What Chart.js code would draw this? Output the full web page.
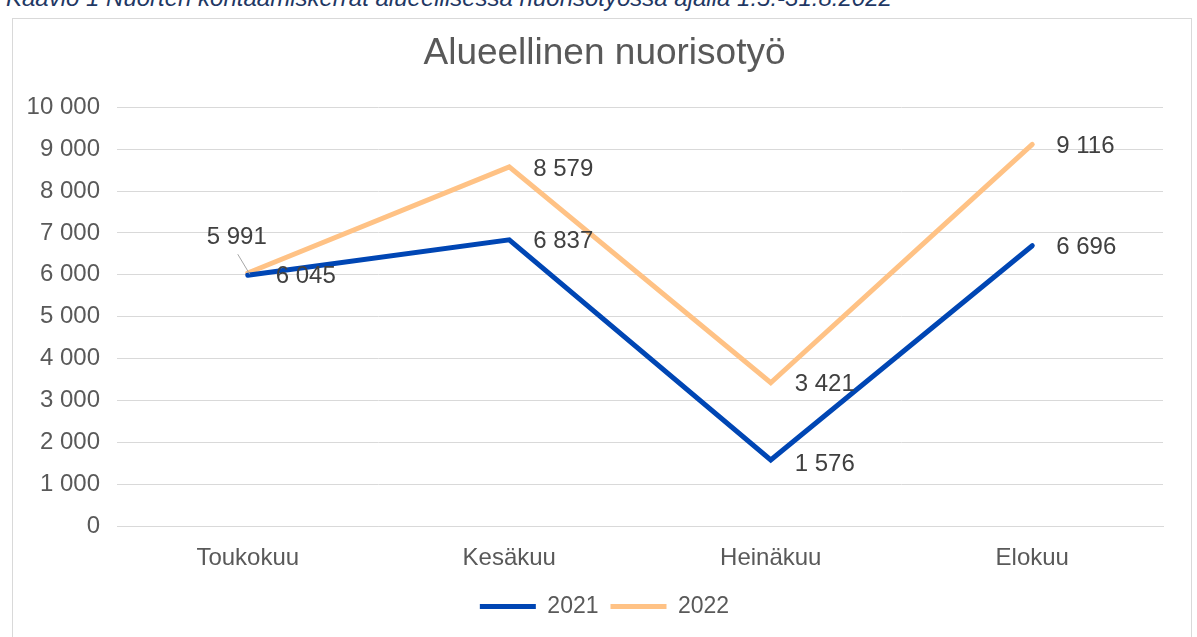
<!DOCTYPE html>
<html><head><meta charset="utf-8">
<script src="https://cdn.jsdelivr.net/npm/chart.js@4/dist/chart.umd.min.js"></script>
<style>
html,body{margin:0;padding:0;background:#fff;overflow:hidden;}
#cap{position:absolute;left:6px;top:-16px;font:italic 24px "Liberation Sans",Arial,sans-serif;color:#1f3864;white-space:nowrap;}
#frame{position:absolute;left:12px;top:18px;width:1180px;height:640px;border:1px solid #d9d9d9;box-sizing:border-box;}
#wrap{position:absolute;left:0;top:0;width:1197px;height:637px;}
</style></head><body>
<div id="cap">Kaavio 1 Nuorten kohtaamiskerrat alueellisessa nuorisotyössä ajalla 1.5.-31.8.2022</div>
<div id="frame"></div>
<div id="wrap"><canvas id="c" width="1197" height="637"></canvas></div>
<script>
const categories = ["Toukokuu", "Kesäkuu", "Heinäkuu", "Elokuu"];
const values2021 = [5991, 6837, 1576, 6696];
const values2022 = [6045, 8579, 3421, 9116];
const yTicks = [0, 1000, 2000, 3000, 4000, 5000, 6000, 7000, 8000, 9000, 10000];

const fmt = v => String(v).replace(/\B(?=(\d{3})+(?!\d))/g, "\u00a0");
const FONT = '"Liberation Sans", Arial, sans-serif';

const labelPlugin = {
  id: 'dlabels',
  afterDatasetsDraw(chart) {
    const ctx = chart.ctx;
    ctx.save();
    ctx.font = '24px ' + FONT;
    ctx.fillStyle = '#404040';
    ctx.textBaseline = 'middle';
    ctx.textAlign = 'left';
    chart.data.datasets.forEach((ds, di) => {
      const meta = chart.getDatasetMeta(di);
      meta.data.forEach((pt, i) => {
        let x = pt.x + 24, y = pt.y + 2;
        if (di === 0 && i === 0) {
          ctx.strokeStyle = '#a6a6a6';
          ctx.lineWidth = 1;
          ctx.beginPath();
          ctx.moveTo(pt.x - 10, pt.y - 21);
          ctx.lineTo(pt.x + 2, pt.y - 1);
          ctx.stroke();
          ctx.textAlign = 'center';
          ctx.fillText(fmt(ds.data[i]), pt.x - 11, pt.y - 38);
          ctx.textAlign = 'left';
          return;
        }
        if (di === 0 && i === 2) y = pt.y + 4;
        if (di === 1 && i === 0) { x = pt.x + 28; y = pt.y + 3; }
        ctx.fillText(fmt(ds.data[i]), x, y);
      });
    });
    ctx.restore();
  }
};

new Chart(document.getElementById('c'), {
  type: 'line',
  data: {
    labels: categories,
    datasets: [
      { label: '2021', data: values2021, borderColor: '#0046B4', backgroundColor: '#0046B4',
        borderWidth: 5, pointRadius: 0, tension: 0, borderCapStyle: 'round', borderJoinStyle: 'miter' },
      { label: '2022', data: values2022, borderColor: '#FFC285', backgroundColor: '#FFC285',
        borderWidth: 5, pointRadius: 0, tension: 0, borderCapStyle: 'round', borderJoinStyle: 'miter' }
    ]
  },
  options: {
    responsive: false,
    animation: false,
    layout: { padding: { left: 12, right: 0, top: 0, bottom: 9 } },
    plugins: {
      title: { display: true, text: 'Alueellinen nuorisotyö', color: '#595959',
        font: { family: FONT, size: 37, weight: 'normal' }, padding: { top: 32, bottom: 31 } },
      legend: { position: 'bottom', labels: { color: '#595959', font: { family: FONT, size: 23 },
        usePointStyle: true, pointStyle: 'line', pointStyleWidth: 56, padding: 12 } },
      tooltip: { enabled: false }
    },
    scales: {
      x: {
        offset: true,
        grid: { display: false },
        border: { display: true, color: '#d9d9d9' },
        ticks: { color: '#595959', font: { family: FONT, size: 24 }, padding: 10 },
        afterFit(s) { s.height = 57; }
      },
      y: {
        min: 0, max: 10000,
        afterBuildTicks(s) { s.ticks = yTicks.map(v => ({ value: v })); },
        grid: { color: '#d9d9d9', lineWidth: 1, drawTicks: false },
        border: { display: false },
        ticks: { color: '#595959', font: { family: FONT, size: 24 }, padding: 17,
          callback: v => fmt(v) },
        afterFit(s) { s.width = 105; }
      },
      yr: {
        position: 'right', min: 0, max: 10000,
        grid: { display: false, drawTicks: false },
        border: { display: false },
        ticks: { display: false },
        afterFit(s) { s.width = 34; }
      }
    }
  },
  plugins: [labelPlugin]
});
</script>
</body></html>
